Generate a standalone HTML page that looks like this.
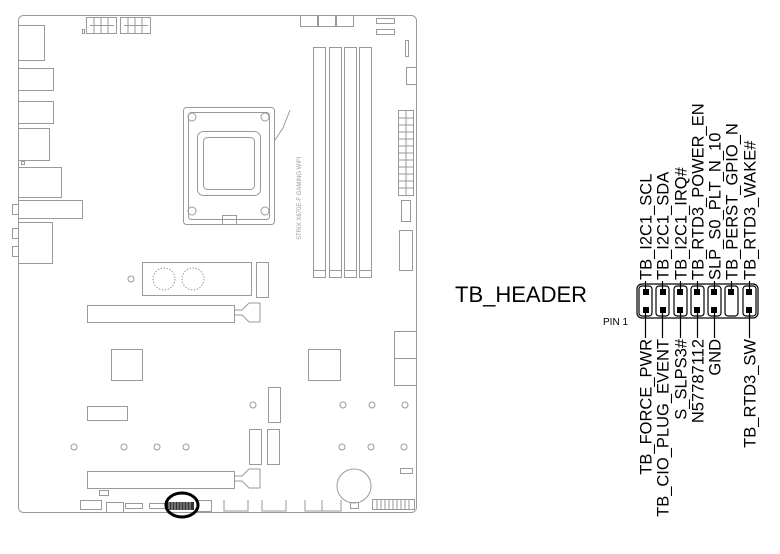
<!DOCTYPE html>
<html><head><meta charset="utf-8"><style>
html,body{margin:0;padding:0;background:#fff;}
svg{display:block;}
</style></head><body>
<svg width="780" height="554" viewBox="0 0 780 554" xmlns="http://www.w3.org/2000/svg">
<rect width="780" height="554" fill="#fff"/>
<g fill="none" stroke="#9a9a9a" stroke-width="1">
  <rect x="18.5" y="15.5" width="398" height="497" rx="5"/>
  <rect x="18.5" y="25.5" width="26" height="35"/>
  <rect x="18.5" y="68.5" width="35" height="22"/>
  <rect x="18.5" y="101.5" width="35" height="22"/>
  <rect x="18.5" y="128.5" width="31" height="32"/>
  <rect x="21.5" y="161.5" width="3" height="3"/>
  <rect x="18.5" y="167.5" width="43" height="30"/>
  <rect x="18.5" y="200.5" width="64" height="18"/>
  <rect x="12.5" y="204.5" width="6" height="10"/>
  <rect x="18.5" y="222.5" width="34" height="41"/>
  <rect x="12.5" y="228.5" width="6" height="10"/>
  <rect x="12.5" y="246.5" width="6" height="10"/>
  <rect x="86.5" y="17.5" width="30" height="16"/>
  <rect x="120.5" y="17.5" width="30" height="16"/>
  <path d="M90 25.5h24M124 25.5h24M94 17v16M101 17v16M108 17v16M128 17v16M135 17v16M142 17v16"/>
  <rect x="82.5" y="29.5" width="2" height="4"/>
  <rect x="300.5" y="15.5" width="17" height="11"/><rect x="318.5" y="15.5" width="17" height="11"/><rect x="336.5" y="15.5" width="17" height="11"/>
  <rect x="376.5" y="18.5" width="18" height="5"/><rect x="376.5" y="29.5" width="18" height="5"/>
  <rect x="405.5" y="40.5" width="3" height="16"/>
  <rect x="406.5" y="67.5" width="10" height="17"/>
  <rect x="183.5" y="107.5" width="91" height="117" rx="3"/>
  <rect x="188.5" y="112.5" width="81" height="107" rx="3"/>
  <rect x="197.5" y="131.5" width="63" height="64" rx="6"/>
  <rect x="203.5" y="137.5" width="51" height="52" rx="4"/>
  <circle cx="192" cy="117" r="4"/><circle cx="265" cy="117" r="4"/><circle cx="192" cy="211" r="4"/><circle cx="265" cy="211" r="4"/>
  <rect x="222.5" y="215.5" width="14" height="9"/>
  <path d="M275 140 L283 128 L290 110"/>
  <text x="0" y="0" transform="translate(301,240) rotate(-90)" font-family="Liberation Sans" font-size="6" fill="#999" stroke="none">STRIX X670E-F GAMING WIFI</text>
  <rect x="313.5" y="47.5" width="12" height="230"/><rect x="329.5" y="47.5" width="12" height="230"/>
  <rect x="344.5" y="47.5" width="12" height="230"/><rect x="359.5" y="47.5" width="12" height="230"/>
  <rect x="398.5" y="110.5" width="15" height="85"/>
  <path d="M406 110v85M398 118h15M398 125h15M398 132h15M398 139h15M398 146h15M398 153h15M398 160h15M398 167h15M398 174h15M398 181h15M398 188h15"/>
  <rect x="401.5" y="200.5" width="9" height="21"/>
  <rect x="399.5" y="230.5" width="13" height="40"/>
  <rect x="142.5" y="262.5" width="109" height="33"/>
  <circle cx="164" cy="279" r="11" stroke-dasharray="1.5 1.5"/><circle cx="193" cy="279" r="11" stroke-dasharray="1.5 1.5"/>
  <circle cx="131" cy="279" r="3"/>
  <rect x="256.5" y="262.5" width="12" height="35"/>
  <rect x="313.5" y="270.5" width="12" height="7"/><rect x="329.5" y="270.5" width="12" height="7"/><rect x="344.5" y="270.5" width="12" height="7"/><rect x="359.5" y="270.5" width="12" height="7"/>
  <rect x="87.5" y="305.5" width="147" height="17"/>
  <path d="M234 310h8l7-7h11v19h-11l-7-7h-8"/>
  <rect x="394.5" y="331.5" width="22" height="27"/><rect x="394.5" y="358.5" width="22" height="27"/>
  <rect x="111.5" y="349.5" width="31" height="31"/>
  <rect x="308.5" y="349.5" width="32" height="31"/>
  <rect x="268.5" y="387.5" width="12" height="35"/>
  <rect x="87.5" y="406.5" width="40" height="14"/>
  <rect x="249.5" y="429.5" width="12" height="35"/><rect x="267.5" y="429.5" width="12" height="35"/>
  <g>
    <circle cx="253" cy="405" r="3"/><circle cx="343" cy="405" r="3"/><circle cx="372" cy="405" r="3"/><circle cx="405" cy="405" r="3"/>
    <circle cx="74" cy="447" r="3"/><circle cx="124" cy="447" r="3"/><circle cx="157" cy="447" r="3"/><circle cx="186" cy="447" r="3"/>
    <circle cx="342" cy="447" r="3"/><circle cx="371" cy="447" r="3"/><circle cx="404" cy="447" r="3"/>
  </g>
  <rect x="87.5" y="471.5" width="147" height="17"/>
  <path d="M234 476h8l7-7h11v19h-11l-7-7h-8"/>
  <circle cx="354" cy="486" r="17"/>
  <rect x="350.5" y="502.5" width="8" height="6"/>
  <rect x="400.5" y="468.5" width="12" height="5"/>
  <rect x="99.5" y="490.5" width="9" height="5"/>
  <rect x="80.5" y="500.5" width="21" height="9"/>
  <rect x="106.5" y="502.5" width="17" height="10"/>
  <rect x="125.5" y="503.5" width="17" height="5"/>
  <rect x="149.5" y="503.5" width="17" height="5"/>
  <rect x="197.5" y="500.5" width="14" height="11"/>
  <path d="M224 500v11h24v-11M262 500v11h24v-11M305 500v11h36v-11M322 500v11"/>
  <rect x="372.5" y="499.5" width="42" height="10"/>
  <path d="M377 499v10M381 499v10M385 499v10M389 499v10M393 499v10M397 499v10M401 499v10M405 499v10M409 499v10"/>
</g>
<rect x="166" y="502" width="28" height="8" fill="#333"/>
<path d="M169 502v8M172 502v8M175 502v8M178 502v8M181 502v8M184 502v8M187 502v8M190 502v8" stroke="#ccc" stroke-width="0.8"/>
<ellipse cx="182" cy="505" rx="16" ry="12" fill="none" stroke="#000" stroke-width="3"/>

<g font-family="Liberation Sans, sans-serif" fill="#000">
  <text x="455" y="302" font-size="22">TB_HEADER</text>
  <text x="603" y="325" font-size="10">PIN 1</text>
</g>
<g fill="none" stroke="#000" stroke-width="1.2">
  <rect x="637" y="284" width="121" height="34" rx="5"/>
  <rect x="639" y="286" width="13" height="30" rx="3"/>
  <rect x="656" y="286" width="13" height="30" rx="3"/>
  <rect x="674" y="286" width="13" height="30" rx="3"/>
  <rect x="691" y="286" width="13" height="30" rx="3"/>
  <rect x="708" y="286" width="13" height="30" rx="3"/>
  <rect x="725" y="286" width="13" height="30" rx="3"/>
  <rect x="743" y="286" width="13" height="30" rx="3"/>
  <path d="M645.5 281v11M662.5 281v11M680.5 281v11M697.5 281v11M714.5 281v11M731.5 281v11M749.5 281v11"/>
  <path d="M645.5 310v28M662.5 310v28M680.5 310v28M697.5 310v28M714.5 310v28M749.5 310v28"/>
</g>
<g fill="#000">
  <rect x="643" y="289" width="6" height="6"/><rect x="660" y="289" width="6" height="6"/><rect x="677" y="289" width="6" height="6"/><rect x="694" y="289" width="6" height="6"/><rect x="711" y="289" width="6" height="6"/><rect x="728" y="289" width="6" height="6"/><rect x="746" y="289" width="6" height="6"/>
  <rect x="643" y="307" width="6" height="6"/><rect x="660" y="307" width="6" height="6"/><rect x="677" y="307" width="6" height="6"/><rect x="694" y="307" width="6" height="6"/><rect x="711" y="307" width="6" height="6"/><rect x="746" y="307" width="6" height="6"/>
</g>
<g font-family="Liberation Sans, sans-serif" font-size="16.5" fill="#000">
  <g text-anchor="start">
    <text transform="translate(651.5,280) rotate(-90)">TB_I2C1_SCL</text>
    <text transform="translate(668.5,280) rotate(-90)">TB_I2C1_SDA</text>
    <text transform="translate(686.5,280) rotate(-90)">TB_I2C1_IRQ#</text>
    <text transform="translate(703.5,280) rotate(-90)">TB_RTD3_POWER_EN</text>
    <text transform="translate(720.5,280) rotate(-90)">SLP_S0_PLT_N_10</text>
    <text transform="translate(737.5,280) rotate(-90)">TB_PERST_GPIO_N</text>
    <text transform="translate(755.5,280) rotate(-90)">TB_RTD3_WAKE#</text>
  </g>
  <g text-anchor="end">
    <text transform="translate(651.5,339) rotate(-90)">TB_FORCE_PWR</text>
    <text transform="translate(668.5,339) rotate(-90)">TB_CIO_PLUG_EVENT</text>
    <text transform="translate(686.5,339) rotate(-90)">S_SLPS3#</text>
    <text transform="translate(703.5,339) rotate(-90)">N57787112</text>
    <text transform="translate(720.5,339) rotate(-90)">GND</text>
    <text transform="translate(755.5,339) rotate(-90)">TB_RTD3_SW</text>
  </g>
</g>
</svg>
</body></html>
